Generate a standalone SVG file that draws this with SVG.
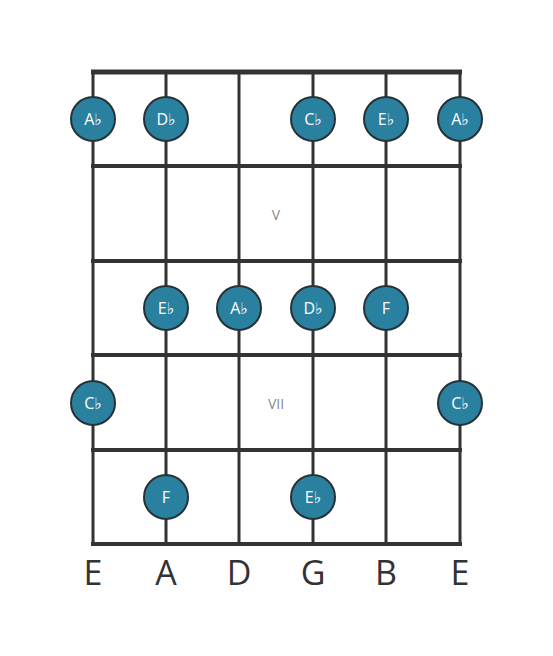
<svg xmlns="http://www.w3.org/2000/svg" width="553" height="656" viewBox="0 0 553 656">
<style>
.str{stroke:#333;stroke-width:3}
.fret{stroke:#333;stroke-width:4}
.nut{stroke:#333;stroke-width:5}
.dot circle{fill:#2a809f;stroke:#263238;stroke-width:2}
.dot text{fill:#fff;font-family:"Open Sans","DejaVu Sans",sans-serif;font-size:16px;text-anchor:middle;dominant-baseline:central}
.pos{fill:#8a8a8a;font-family:"Open Sans","DejaVu Sans",sans-serif;font-size:14px;text-anchor:middle;dominant-baseline:central}
.sname{fill:#333;font-family:"Open Sans","DejaVu Sans",sans-serif;font-size:34px;text-anchor:middle}
</style>
<rect width="553" height="656" fill="#fff"/>
<g id="connectors">
<line class="str" x1="93" y1="72" x2="93" y2="544"/>
<line class="str" x1="166" y1="72" x2="166" y2="544"/>
<line class="str" x1="239" y1="72" x2="239" y2="544"/>
<line class="str" x1="313" y1="72" x2="313" y2="544"/>
<line class="str" x1="386" y1="72" x2="386" y2="544"/>
<line class="str" x1="460" y1="72" x2="460" y2="544"/>
<line class="nut" x1="91" y1="72" x2="462" y2="72"/>
<line class="fret" x1="91" y1="166" x2="462" y2="166"/>
<line class="fret" x1="91" y1="261" x2="462" y2="261"/>
<line class="fret" x1="91" y1="355" x2="462" y2="355"/>
<line class="fret" x1="91" y1="450" x2="462" y2="450"/>
<line class="fret" x1="91" y1="544" x2="462" y2="544"/>
</g>
<text class="pos" x="276" y="214">V</text>
<text class="pos" x="276" y="403">VII</text>
<g id="n1" class="dot"><circle cx="93" cy="119" r="22"/><text x="93" y="119">A♭</text></g>
<g id="n2" class="dot"><circle cx="166" cy="119" r="22"/><text x="166" y="119">D♭</text></g>
<g id="n3" class="dot"><circle cx="313" cy="119" r="22"/><text x="313" y="119">C♭</text></g>
<g id="n4" class="dot"><circle cx="386" cy="119" r="22"/><text x="386" y="119">E♭</text></g>
<g id="n5" class="dot"><circle cx="460" cy="119" r="22"/><text x="460" y="119">A♭</text></g>
<g id="n6" class="dot"><circle cx="166" cy="308" r="22"/><text x="166" y="308">E♭</text></g>
<g id="n7" class="dot"><circle cx="239" cy="308" r="22"/><text x="239" y="308">A♭</text></g>
<g id="n8" class="dot"><circle cx="313" cy="308" r="22"/><text x="313" y="308">D♭</text></g>
<g id="n9" class="dot"><circle cx="386" cy="308" r="22"/><text x="386" y="308">F</text></g>
<g id="n10" class="dot"><circle cx="93" cy="403" r="22"/><text x="93" y="403">C♭</text></g>
<g id="n11" class="dot"><circle cx="460" cy="403" r="22"/><text x="460" y="403">C♭</text></g>
<g id="n12" class="dot"><circle cx="166" cy="497" r="22"/><text x="166" y="497">F</text></g>
<g id="n13" class="dot"><circle cx="313" cy="497" r="22"/><text x="313" y="497">E♭</text></g>
<g id="strings">
<text class="sname" x="93" y="585">E</text>
<text class="sname" x="166" y="585">A</text>
<text class="sname" x="239" y="585">D</text>
<text class="sname" x="313" y="585">G</text>
<text class="sname" x="386" y="585">B</text>
<text class="sname" x="460" y="585">E</text>
</g>
</svg>
